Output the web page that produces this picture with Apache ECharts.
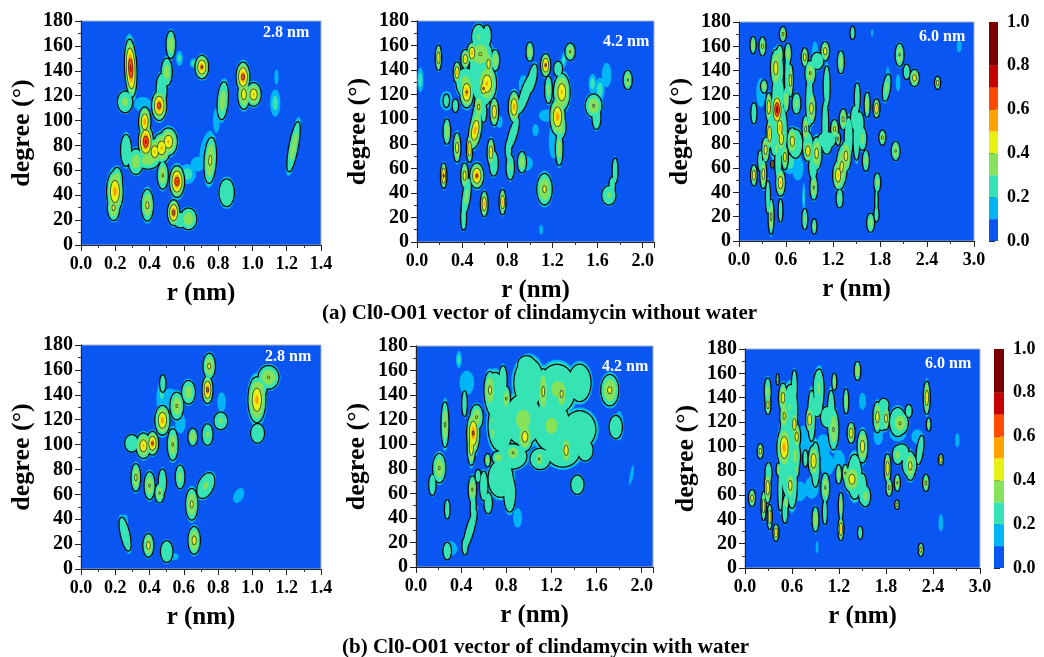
<!DOCTYPE html>
<html><head><meta charset="utf-8">
<style>html,body{margin:0;padding:0;background:#fff}#c{width:1044px;height:657px;filter:blur(0.3px)}</style>
<script src="https://cdn.jsdelivr.net/npm/echarts@6/dist/echarts.min.js"></script>
</head><body><div id="c"></div>
<script>
// Peaks: [r (nm), degree, peak density, r half-extent, degree half-extent, tilt dr/ddeg]
const peaksA1 = [[.36,113,.18,.05,6],[.68,65,.17,.04,6],[.73,80,.17,.03,12,.002],[.79,100,.17,.02,10],[1.14,135,.15,.012,6],
[.29,142,.8,.04,28,-.0003],[.257,115,.35,.05,10],[.524,161,.4,.03,13],[.5,139,.38,.035,13],[.47,125,.3,.035,15],[.456,112,.7,.05,14],[.372,99,.6,.04,14],[.378,83,.8,.05,16],[.43,75,.55,.05,12],[.47,78,.55,.06,14],[.51,83,.55,.06,13],[.263,76,.3,.035,15],[.32,67,.38,.05,12],[.39,68,.38,.08,8],[.477,56,.42,.035,13],[.56,51,.75,.05,15],[.62,57,.25,.05,8],[.754,68,.45,.04,22,.0004],[.827,116,.38,.035,18,.0005],[.85,42,.3,.05,13],[.387,32,.45,.04,15],[.198,43,.6,.055,20],[.19,30,.45,.04,12],[.21,52,.4,.035,12],[.54,26,.7,.04,12],[.627,21,.4,.055,10],[.58,20,.28,.05,7],[.574,150,.23,.02,6],[.705,143,.65,.045,11],[.66,146,.25,.025,4],[.945,135,.7,.045,14],[.95,121,.5,.04,14],[1.007,121,.55,.05,11],[1.133,114,.24,.03,11],[1.24,79,.38,.03,24,.0013]];
const peaksA2 = [[.26,115,.17,.04,8],[.73,98,.16,.02,5],[.97,64,.17,.04,6],[1.05,91,.17,.02,5],[.944,128,.17,.03,8],[1.21,82,.17,.03,14],[1.15,103,.16,.05,5],[1.1,10,.15,.012,4],[1.68,136,.16,.03,10],
[.55,140,.3,.07,30],[.6,128,.3,.06,20],[.52,100,.28,.03,24,.002],
[.03,132,.25,.02,10],[.19,150,.55,.02,12],[.355,138,.6,.025,10],[.26,115,.3,.02,6],[.34,111,.3,.02,6],[.265,90,.4,.025,12],[.355,77,.5,.025,14],[.466,76,.6,.02,13],[.236,54,.65,.02,12],[.546,167,.32,.05,12],[.56,153,.42,.09,14],[.487,154,.6,.035,10],[.428,149,.55,.03,9],[.634,145,.5,.03,12],[.693,148,.4,.03,10],[.62,168,.28,.03,10],[.43,130,.35,.07,14],[.44,122,.62,.05,15],[.62,129,.55,.07,18],[.59,125,.65,.03,8],[.546,110,.45,.03,12],[.59,106,.3,.02,10],[.516,91,.6,.045,18,.0015],[.684,106,.55,.03,13],[.655,73,.55,.025,13],[.68,64,.3,.03,12],[.81,75,.26,.02,10],[.826,61,.32,.028,12],[.93,65,.4,.03,10],[.86,110,.6,.04,15],[.85,88,.27,.03,16,.003],[.96,121,.3,.035,20,.0035],[1.02,133,.3,.03,14,.002],[1,155,.4,.025,9],[1.14,144,.65,.035,11],[1.165,124,.35,.025,13],[1.283,122,.55,.06,18],[1.245,102,.6,.055,18],[1.27,94,.4,.04,12],[1.26,76,.38,.025,16],[1.25,141,.27,.03,7],[1.357,155,.42,.035,8],[1.3,148,.22,.02,8,.002],[1.13,43,.45,.055,15],[.596,31,.6,.025,12],[.758,32.5,.6,.022,12],[.53,54,.65,.05,12],[.422,54,.5,.025,12],[.437,37,.35,.028,18,.0015],[.413,20,.27,.018,12],[1.7,38,.33,.05,9],[1.755,58,.27,.018,12],[1.73,46,.27,.02,8],[1.555,129,.25,.025,8],[1.62,124,.25,.03,10],[1.565,111,.42,.06,11],[1.59,102,.28,.03,12],[1.867,132,.42,.03,9]];
const peaksA3 = [[1.7,171,.14,.01,3],[2.81,160,.14,.02,5],[2.03,130,.15,.02,7],[.75,60,.17,.05,10],[.97,150,.16,.03,14],[.28,122,.17,.04,12],[1.9,137,.2,.015,6],
[.72,80,.27,.07,14],[.88,78,.27,.05,14],[.5,120,.27,.06,20],[.45,95,.28,.05,30],[.55,90,.28,.05,25],[.5,65,.27,.03,18],[1.1,95,.27,.03,25],[1.4,85,.27,.04,20],[1.5,85,.27,.03,22],[.9,115,.27,.035,25],[.65,65,.25,.06,10],[1.12,80,.28,.05,10],[.5,140,.28,.05,22],[.62,135,.27,.025,24],
[.18,161,.4,.025,8],[.3,160,.45,.03,9],[.19,105,.3,.025,10],[.19,54,.55,.028,10],[.56,170,.45,.03,7],[1.45,171,.3,.02,6],[1.1,156,.5,.04,9],[.84,151,.5,.03,9],[.52,153,.35,.03,9],[.47,142,.5,.05,18],[.626,154,.4,.03,10],[.656,132,.5,.025,16],[.32,127,.4,.03,6],[.91,138,.42,.05,12],[1,148,.3,.06,8],[1.3,147,.4,.03,11],[1.12,127,.27,.03,20],[2.05,153,.42,.04,11],[2.14,139,.27,.03,7],[2.24,134,.5,.045,8],[2.535,130,.5,.025,6],[1.885,126,.35,.035,13,.002],[1.636,112,.4,.025,12],[1.755,109,.6,.03,9],[1.51,118,.28,.025,14],[.733,113,.35,.04,10],[.925,109,.5,.04,15],[.85,92,.45,.03,13],[.38,110,.55,.03,14],[.486,108,.9,.05,15],[.52,93,.6,.04,14],[.6,116,.4,.03,12],[.39,88,.6,.03,14],[.34,75,.5,.035,12],[.31,55,.5,.03,14],[.27,66,.3,.02,10],[.54,84,.55,.04,12],[.68,82,.5,.05,13],[.477,76,.4,.02,7],[.585,69,.5,.03,12],[.426,63,.7,.012,3],[.53,48,.55,.045,13],[.53,25,.3,.018,11],[.37,36,.27,.02,16],[.41,20,.45,.025,17],[.84,18,.33,.025,10],[.826,36,.24,.012,12],[.96,12,.35,.022,7],[.955,44,.42,.035,12],[.88,74,.55,.045,10],[.99,72,.48,.05,16],[.945,61,.3,.04,12],[1.22,92,.45,.035,9],[1.12,83,.3,.09,8],[1.265,84,.45,.02,6],[1.33,100,.45,.035,10],[1.48,101,.28,.04,12],[1.365,70,.48,.05,15],[1.265,54,.55,.05,14],[1.31,61,.46,.055,22,.001],[1.285,35,.33,.03,9],[1.575,84,.35,.04,11],[1.62,66,.36,.03,10],[1.54,96,.27,.04,12],[1.83,85,.45,.03,7],[2,74,.42,.04,9],[1.765,48,.35,.03,9],[1.755,33,.26,.012,12],[1.68,15,.38,.035,9],[1.755,22,.26,.02,7]];
const peaksB1 = [[.255,38,.16,.02,6],[.54,10,.15,.03,3],[.92,59,.16,.03,6,.002],[.82,134,.17,.025,8],[.46,137,.16,.02,12],[.52,137,.16,.05,8],[.58,117,.16,.03,8],
[.257,28,.3,.03,16,-.0015],[.393,19,.48,.035,11],[.5,14,.3,.04,10],[.66,23,.48,.04,13],[.32,73.5,.45,.03,13],[.4,67,.42,.035,13],[.458,61,.42,.03,9],[.475,70,.3,.025,12],[.578,74,.35,.03,11],[.646,52,.45,.04,15],[.728,67,.33,.055,12,.002],[.296,101,.3,.045,8],[.364,99,.55,.05,12],[.417,101,.65,.04,11],[.535,100,.42,.035,15],[.475,119.5,.6,.05,14],[.559,131,.42,.045,13],[.477,149,.28,.018,8],[.471,141,.25,.02,8],[.627,142,.38,.045,11],[.738,144,.68,.035,13],[.748,163,.45,.04,12],[.815,119,.33,.045,8],[.738,108,.33,.035,10],[.652,106,.4,.03,8],[1.026,136,.58,.06,22],[1.094,154,.42,.07,11],[1.05,146,.35,.04,10],[1.03,109,.3,.045,9]];
const peaksB2 = [[1.91,75,.15,.012,8,.002],[.3,15,.17,.05,6],[.45,150,.17,.05,10],[1.8,115,.17,.03,12],[.9,40,.17,.03,8],
[1,150,.3,.12,24],[1.25,145,.33,.15,24],[1.45,150,.29,.09,18],[.95,120,.34,.15,25],[1.2,115,.33,.15,25],[1.45,112,.28,.13,18],[1.3,95,.29,.14,16],[.75,115,.29,.1,25],[.7,140,.29,.08,22],[.85,90,.3,.12,12],[.75,72,.3,.1,18],[.83,60,.28,.045,18],[1.1,88,.27,.08,10],[1.5,95,.27,.06,10],[.98,165,.26,.07,8],
[.64,52,.27,.03,10],[.6,66,.27,.03,14],
[.38,169,.24,.02,7],[.257,116,.42,.028,22],[.206,80.5,.42,.05,14],[.145,67,.27,.025,10],[.277,47,.3,.018,9],[.277,13,.3,.03,8],[.507,109,.65,.05,20],[.49,98,.55,.03,18],[.537,122,.42,.05,12],[.5,63,.42,.03,13],[.55,74,.27,.02,6],[.478,30,.27,.03,20,.003],[.434,17,.27,.02,8],[.507,49,.27,.02,14],[.43,133,.27,.018,12],[.655,144,.45,.045,18],[.68,109,.4,.02,7],[.68,119,.33,.02,4],[.8,137,.42,.03,12],[.77,152,.27,.03,14],[1.127,143,.45,.04,22],[1.29,141,.45,.045,16],[.965,106,.5,.06,14],[.86,93,.42,.06,8],[.73,89,.38,.05,6],[.634,87,.38,.02,6],[1.09,88,.42,.03,8],[1.33,95,.5,.04,13],[1.717,144,.45,.07,15],[1.43,67,.27,.05,9],[1.77,114,.26,.05,11],[.77,106,.27,.04,7]];
const peaksB3 = [[1.5,137,.16,.03,7],[.92,17,.16,.012,5],[2.5,37,.16,.02,7],[.7,63,.16,.06,8],[.85,66,.16,.06,9],[.75,105,.17,.06,12],[1.05,85,.17,.06,9],[1.2,88,.17,.05,9],[1.7,108,.15,.04,7],[1.95,110,.15,.07,6],[2.2,108,.15,.05,6],[1,100,.16,.06,10],
[.55,95,.28,.09,45],[.58,130,.28,.07,25],[.6,70,.28,.05,25],[1.4,75,.28,.07,22],[1.5,65,.28,.04,15],[2.1,85,.28,.07,12],[2,95,.28,.07,8],[1.95,120,.28,.08,14],[1.75,125,.28,.07,14],[.9,85,.28,.04,22],[.85,125,.28,.035,25],[.95,145,.3,.04,22],[1.1,125,.28,.035,25],
[.09,57.5,.5,.03,8],[.195,96,.5,.025,7],[.29,145,.35,.03,13],[.293,134,.5,.025,9],[.416,155,.5,.01,5],[.238,51,.55,.02,14],[.29,66,.55,.03,15],[.315,42,.6,.02,12],[.395,29,.6,.025,8],[.43,81,.4,.02,6],[.3,78,.28,.03,10],[.485,140,.5,.04,14],[.5,125,.45,.04,14],[.57,132,.35,.025,7],[.63,149,.27,.025,16],[.5,99,.6,.07,20],[.63,118,.55,.03,12],[.66,108,.5,.035,12],[.64,92,.35,.05,16],[.578,68,.5,.04,13],[.66,81,.35,.02,7],[.523,54,.4,.025,7],[.45,64,.27,.02,20],[.51,47,.27,.025,12],[.825,122,.55,.035,12],[.875,88,.55,.05,15],[.77,90,.3,.02,8],[.94,148,.33,.05,18],[.92,133,.27,.05,10],[1.14,153,.4,.02,8],[1.13,114,.42,.05,20],[1.045,124,.27,.06,10],[1.025,66,.42,.04,14],[.9,40,.4,.03,12],[1.02,46,.27,.02,12],[1.195,77,.38,.025,9],[1.224,51,.4,.02,13],[1.224,32,.6,.025,11],[1.29,137,.4,.022,12],[1.355,111,.55,.035,10],[1.436,162,.4,.028,9],[1.5,100,.5,.05,16],[1.365,73,.5,.08,13],[1.28,78,.42,.025,8],[1.535,59,.35,.05,10],[1.47,29,.28,.02,6],[1.69,124,.5,.04,15],[1.8,123,.5,.03,11],[1.98,119,.42,.08,11],[1.77,134,.27,.05,6],[2.09,129,.26,.03,6],[1.82,82,.55,.03,14],[1.84,66,.45,.028,8],[1.945,70,.42,.025,8],[1.94,52,.5,.018,4],[1.95,93,.35,.05,9],[2.11,84,.47,.05,14],[2.235,97,.28,.03,14,.002],[2.31,70,.45,.028,8],[2.32,140,.55,.03,16],[2.345,118,.35,.018,6],[2.5,89,.55,.02,5],[2.71,105,.2,.018,6],[2.245,15,.5,.022,6]];

const panelPeaks = [peaksA1, peaksA2, peaksA3, peaksB1, peaksB2, peaksB3];
const panelLabels = ['2.8 nm','4.2 nm','6.0 nm','2.8 nm','4.2 nm','6.0 nm'];
const xMax = [1.4, 2.1, 3.0, 1.4, 2.1, 3.0];
const xStep = [0.2, 0.4, 0.6, 0.2, 0.4, 0.6];
const extentGain = [1, 1.4, 1.5, 1, 1.3, 1.5];
const yTicks = {min:0, max:180, step:20};
const levelValues = [0.1, 0.2, 0.25, 0.3, 0.4, 0.5, 0.6, 0.7, 0.8];
const levelColors = ['#00B4F6','#35E3B4','#35E3B4','#86E25A','#E6F012','#FFA200','#FF4A00','#C40000','#7A0000'];
const contourInk = {0.25:'#050a14', 0.4:'#2c4a3c', 0.6:'#4a3020'};
const colorbarEdges = [0,.1,.2,.3,.4,.5,.6,.7,.8,1];
const colorbarColors = ['#0A56F2','#00B4F6','#35E3B4','#86E25A','#E6F012','#FFA200','#FF4A00','#C40000','#7A0000'];
const captions = ['(a) Cl0-O01 vector of clindamycin without water','(b) Cl0-O01 vector of clindamycin with water'];

const plotBoxes = [[81,21,240,224],[417,21,237,221],[739,22,235,219],[81,345,240,224],[416,346,237,221],[745,349,235,219]];
const labelPos = [[263,34],[603,43],[919,38],[265,358],[602,368],[925,365]];
const captionPos = [[322,303],[342,637]];
const barBoxes = [[989,22,9,219],[994,349,10,219]];
const FONT = '"Liberation Serif","Times New Roman",serif';

function levelRows(peaks,gain){
  const rows=[];
  levelValues.forEach(L=>{
    const inked = contourInk[L]!==undefined;
    [0,1].forEach(pass=>{
      if(pass===0 && !inked) return;
      peaks.forEach(p=>{ if(p[2]>L) rows.push([p[0],p[1],L,p[2],p[3]*gain,p[4],p[5]||0,pass]); });
    });
  });
  return rows;
}
function levelScale(L,p){
  if(p<=0.25) return Math.sqrt((p-L)/(p-0.1));
  if(L===0.1) return 1;
  if(L===0.2) return 0.92;
  return 0.82*Math.pow((p-L)/(p-0.25),1.15);
}
function renderBlob(params,api){
  const r=api.value(0),d=api.value(1),L=api.value(2),p=api.value(3),rw=api.value(4),dw=api.value(5),k=api.value(6),pass=api.value(7);
  const s=levelScale(L,p), pts=[];
  for(let i=0;i<36;i++){
    const t=i/36*Math.PI*2, dd=dw*s*Math.sin(t);
    pts.push(api.coord([r+rw*s*Math.cos(t)+k*dd, d+dd]));
  }
  const idx=levelValues.indexOf(L);
  return {type:'polygon',shape:{points:pts},
    style: pass===0 ? {fill:contourInk[L],stroke:contourInk[L],lineWidth:L===0.25?2.6:1.6}
                    : {fill:levelColors[idx]}};
}

const grid=[],xAxis=[],yAxis=[],series=[],graphic=[];
const tickFont={fontFamily:FONT,fontWeight:'bold',color:'#000'};
plotBoxes.forEach((b,i)=>{
  grid.push({left:b[0],top:b[1],width:b[2],height:b[3],show:true,backgroundColor:'#0A56F2',borderColor:'#A8B0B8',borderWidth:1,containLabel:false});
  xAxis.push({gridIndex:i,type:'value',min:0,max:xMax[i],interval:xStep[i],splitLine:{show:false},
    name:'r (nm)',nameLocation:'middle',nameGap:36,nameTextStyle:{...tickFont,fontSize:25},
    axisLine:{show:true,onZero:false,lineStyle:{color:'#222',width:1}},axisTick:{show:true,length:6,lineStyle:{color:'#222'}},
    minorTick:{show:true,splitNumber:2,length:3,lineStyle:{color:'#333'}},
    axisLabel:{...tickFont,fontSize:18,margin:10,showMaxLabel:xMax[i]!==2.1,hideOverlap:false,formatter:v=>v.toFixed(1)}});
  yAxis.push({gridIndex:i,type:'value',min:yTicks.min,max:yTicks.max,interval:yTicks.step,splitLine:{show:false},
    name:'degree (°)',nameLocation:'middle',nameGap:46,nameRotate:90,nameTextStyle:{...tickFont,fontSize:26},
    axisLine:{show:true,onZero:false,lineStyle:{color:'#222',width:1}},axisTick:{show:true,length:6,lineStyle:{color:'#222'}},
    minorTick:{show:true,splitNumber:2,length:3,lineStyle:{color:'#333'}},
    axisLabel:{...tickFont,fontSize:20,margin:8}});
  series.push({type:'custom',coordinateSystem:'cartesian2d',xAxisIndex:i,yAxisIndex:i,clip:true,silent:true,
    encode:{x:0,y:1},data:levelRows(panelPeaks[i],extentGain[i]),renderItem:renderBlob,animation:false});
  graphic.push({type:'text',left:labelPos[i][0],top:labelPos[i][1]-9,style:{text:panelLabels[i],fill:'#fff',font:'bold 16px '+FONT},z:20});
});
barBoxes.forEach((b,j)=>{
  const gi=plotBoxes.length+j;
  grid.push({left:b[0],top:b[1],width:b[2],height:b[3],show:false});
  xAxis.push({gridIndex:gi,type:'value',min:0,max:1,show:false});
  yAxis.push({gridIndex:gi,type:'value',position:'right',min:0,max:1,interval:0.2,splitLine:{show:false},
    axisLine:{show:false},axisTick:{show:true,length:6,lineStyle:{color:'#222'}},
    axisLabel:{...tickFont,fontSize:18,margin:9,formatter:v=>v.toFixed(1)}});
  series.push({type:'custom',coordinateSystem:'cartesian2d',xAxisIndex:gi,yAxisIndex:gi,silent:true,animation:false,
    encode:{x:0,y:1},data:colorbarColors.map((c,n)=>[0,colorbarEdges[n],colorbarEdges[n+1],n]),
    renderItem:(params,api)=>{
      const a=api.coord([0,api.value(1)]),t=api.coord([1,api.value(2)]);
      return {type:'rect',shape:{x:a[0],y:t[1],width:t[0]-a[0],height:a[1]-t[1]},style:{fill:colorbarColors[api.value(3)]}};
    }});
});
captions.forEach((c,i)=>graphic.push({type:'text',left:captionPos[i][0],top:captionPos[i][1],style:{text:c,fill:'#000',font:'bold 21px '+FONT}}));

const chart=echarts.init(document.getElementById('c'),null,{renderer:'canvas'});
chart.setOption({animation:false,backgroundColor:'#fff',grid,xAxis,yAxis,series,graphic});
</script></body></html>
